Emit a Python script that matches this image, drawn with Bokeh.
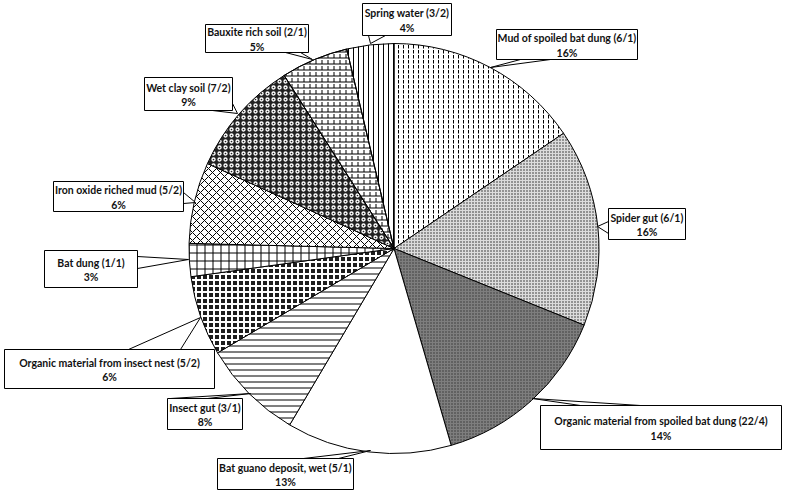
import math
from bokeh.plotting import figure
from bokeh.models import ColumnDataSource, Range1d
from bokeh.core.properties import value
from bokeh.embed import file_html
from bokeh.resources import INLINE

# ---- data (clockwise from 12 o'clock) ----
categories = ["Mud of spoiled bat dung", "Spider gut", "Organic material from spoiled bat dung",
              "Bat guano deposit, wet", "Insect gut", "Organic material from insect nest",
              "Bat dung", "Iron oxide riched mud", "Wet clay soil", "Bauxite rich soil", "Spring water"]
counts = ["6/1", "6/1", "22/4", "5/1", "3/1", "5/2", "1/1", "5/2", "7/2", "2/1", "3/2"]
shares = [15.5, 15.6, 14.4, 13.0, 8.0, 6.3, 2.6, 6.4, 9.2, 5.3, 3.7]

# ---- styles ----
fills = ["white", "#dcdcdc", "#7e7e7e", "white", "white", "#1e1e1e", "white", "white", "#222222", "white", "white"]
hatches = ["vertical_dash", "dot", "dot", " ", "horizontal_line", "cross", "cross", "diagonal_cross",
           "ring", "horizontal_line", "vertical_line"]
hatch_colors = ["black", "#222222", "#333333", "black", "black", "white", "black", "black", "white", "black", "black"]
hatch_scales = [5, 3, 3, 6, 6, 6, 8, 8, 6, 6, 5]
hatch_weights = [1, 1.8, 1, 1, 1, 2, 1, 1, 1.3, 1, 1]

# label layout in page pixels: box (l, t, r, b), tip (x, y), pointer base points
boxes = [(496, 29, 637, 59), (608, 208, 685, 239), (540, 405, 781, 449), (217, 458, 353, 489),
         (167, 398, 242, 429), (4, 349, 214, 388), (44, 250, 137, 287), (53, 181, 183, 211),
         (144, 77, 232, 110), (205, 24, 308, 52), (362, 3, 451, 35)]
tips = [(490, 67), (597, 226), (532, 398), (370, 450), (250, 393), (200, 317), (188, 259),
        (195, 202), (237, 113), (312, 59), (370, 43)]
bases = [((520, 59), (550, 59)), ((608, 221), (608, 233)), ((580, 405), (640, 405)),
         ((303, 458), (338, 458)), ((170, 398), (207, 398)), ((128, 349), (180, 349)),
         ((137, 256), (137, 268)), ((183, 192), (183, 203)), ((212, 110), (232, 103)),
         ((285, 52), (300, 52)), ((368, 35), (385, 35))]

W, H = 785, 491
def Y(y):
    return H - y

CX, CY, R = 393.5, 248, 205

p = figure(width=W, height=H, output_backend="svg", toolbar_location=None,
           x_range=Range1d(0, W), y_range=Range1d(0, H), min_border=0)
p.axis.visible = False
p.grid.visible = False
p.outline_line_color = None

total = sum(shares)
starts, ends = [], []
cum = 0.0
for s in shares:
    starts.append(math.pi / 2 - 2 * math.pi * cum / total)
    cum += s
    ends.append(math.pi / 2 - 2 * math.pi * cum / total)

src = ColumnDataSource(dict(start=starts, end=ends, fill=fills, hatch=hatches, hc=hatch_colors,
                            hs=hatch_scales, hw=hatch_weights, cat=categories))
p.wedge(x=CX, y=Y(CY), radius=R, start_angle="start", end_angle="end", direction="clock",
        fill_color="fill", hatch_pattern="hatch", hatch_color="hc", hatch_scale="hs",
        hatch_weight="hw", line_color="black", line_width=1, source=src)
# brick verticals for bauxite slice
bi = categories.index("Bauxite rich soil")
p.wedge(x=CX, y=Y(CY), radius=R, start_angle=starts[bi], end_angle=ends[bi], direction="clock",
        fill_alpha=0, hatch_pattern="vertical_dash", hatch_scale=6, hatch_color="black",
        line_color="black", line_width=1)

# callouts
xs, ys = [], []
for (tx, ty), (b1, b2) in zip(tips, bases):
    xs.append([b1[0], tx, b2[0]])
    ys.append([Y(b1[1]), Y(ty), Y(b2[1])])
p.patches(xs=xs, ys=ys, fill_color="white", line_color="black", line_width=1)

p.quad(left=[b[0] for b in boxes], right=[b[2] for b in boxes],
       top=[Y(b[1]) for b in boxes], bottom=[Y(b[3]) for b in boxes],
       fill_color="white", line_color="black", line_width=1)

line1 = [f"{c} ({n})" for c, n in zip(categories, counts)]
line2 = [f"{round(s)}%" for s in shares]
cxs = [(b[0] + b[2]) / 2 for b in boxes]
cys = [(b[1] + b[3]) / 2 for b in boxes]
p.text(x=cxs, y=[Y(c - 6.5) for c in cys], text=line1, text_font=value("Lato"),
       text_font_style="bold", text_font_size="10.5px", text_align="center",
       text_baseline="middle", text_color="#111111")
p.text(x=cxs, y=[Y(c + 8) for c in cys], text=line2, text_font=value("Lato"),
       text_font_style="bold", text_font_size="10.5px", text_align="center",
       text_baseline="middle", text_color="#111111")

open("out.html", "w").write(file_html(p, INLINE))
